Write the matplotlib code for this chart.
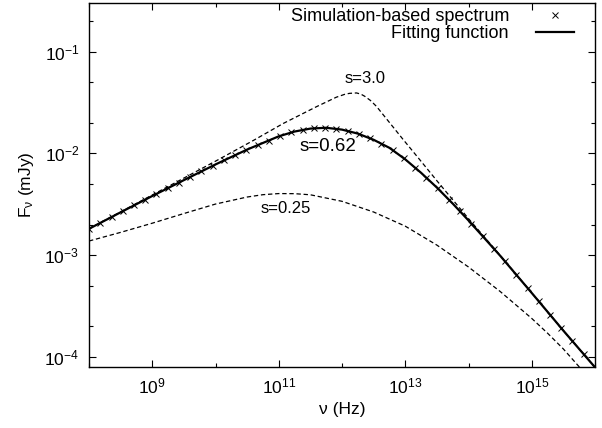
import numpy as np
import matplotlib
matplotlib.use('Agg')
import matplotlib.pyplot as plt
from matplotlib.ticker import LogLocator, FixedLocator, NullFormatter

plt.rcParams['font.family'] = ['Liberation Sans', 'DejaVu Sans']
plt.rcParams['mathtext.fontset'] = 'custom'
plt.rcParams['mathtext.rm'] = 'Liberation Sans'
plt.rcParams['mathtext.it'] = 'Liberation Sans:italic'
plt.rcParams['axes.unicode_minus'] = False

# simulation-based spectrum (log10 nu [Hz], log10 F [mJy])
sim_lognu = np.array([8.000, 8.178, 8.356, 8.533, 8.711, 8.889, 9.067, 9.244, 9.422, 9.600,
                      9.778, 9.956, 10.133, 10.311, 10.489, 10.667, 10.844, 11.022, 11.200, 11.378,
                      11.556, 11.733, 11.911, 12.089, 12.267, 12.444, 12.622, 12.800, 12.978, 13.156,
                      13.333, 13.511, 13.689, 13.867, 14.044, 14.222, 14.400, 14.578, 14.756, 14.933,
                      15.111, 15.289, 15.467, 15.644, 15.822, 16.000])
sim_logF = np.array([-2.740, -2.682, -2.624, -2.567, -2.510, -2.454, -2.397, -2.342, -2.286, -2.231,
                     -2.176, -2.122, -2.069, -2.017, -1.965, -1.919, -1.873, -1.828, -1.794, -1.770,
                     -1.754, -1.748, -1.760, -1.780, -1.809, -1.852, -1.905, -1.968, -2.048, -2.140,
                     -2.238, -2.342, -2.454, -2.570, -2.688, -2.812, -2.935, -3.061, -3.191, -3.321,
                     -3.452, -3.584, -3.716, -3.844, -3.972, -4.100])

# fitting function, s = 0.62
fit_lognu = np.array([8.0, 8.5, 9.0, 9.5, 10.0, 10.5, 11.0, 11.25, 11.5, 11.75, 12.0, 12.25,
                      12.5, 12.75, 13.0, 13.25, 13.5, 13.75, 14.0, 14.5, 15.0, 15.5, 16.0])
fit_logF = np.array([-2.740, -2.578, -2.418, -2.262, -2.108, -1.962, -1.832, -1.785, -1.756, -1.748,
                     -1.766, -1.805, -1.866, -1.945, -2.058, -2.190, -2.335, -2.492, -2.658,
                     -3.004, -3.370, -3.740, -4.100])

# s = 3.0
s3_lognu = np.array([8.0, 9.0, 10.0, 10.6, 11.07, 11.6, 11.91, 12.05, 12.12, 12.23, 12.30, 12.36,
                     12.45, 12.545, 12.755, 12.965, 13.23, 13.5, 14.0, 14.5, 15.0, 15.5, 16.0])
s3_logF = np.array([-2.740, -2.408, -2.076, -1.872, -1.706, -1.540, -1.448, -1.418, -1.410, -1.406,
                    -1.418, -1.439, -1.480, -1.538, -1.700, -1.862, -2.062, -2.268, -2.640,
                    -3.000, -3.370, -3.740, -4.100])

# s = 0.25
s025_lognu = np.array([8.0, 8.5, 9.0, 9.5, 10.0, 10.5, 10.75, 11.0, 11.25, 11.5, 12.0, 12.5,
                       13.0, 13.5, 14.0, 14.5, 15.0, 15.25, 15.5, 15.8])
s025_logF = np.array([-2.860, -2.775, -2.685, -2.590, -2.497, -2.428, -2.405, -2.394, -2.395, -2.406,
                      -2.470, -2.575, -2.714, -2.900, -3.115, -3.355, -3.620, -3.765, -3.920, -4.130])

fig = plt.figure(figsize=(6.02, 4.28), dpi=100)
ax = fig.add_axes([89 / 602, 1 - 367 / 428, 506 / 602, 364 / 428])

ax.plot(10 ** s3_lognu, 10 ** s3_logF, color='k', lw=0.9, ls=(0, (3.5, 2.2)))
ax.plot(10 ** s025_lognu, 10 ** s025_logF, color='k', lw=0.9, ls=(0, (3.5, 2.2)))
ax.plot(10 ** sim_lognu, 10 ** sim_logF, 'kx', ms=4.5, mew=0.7, label='Simulation-based spectrum')
ax.plot(10 ** fit_lognu, 10 ** fit_logF, 'k-', lw=1.6, label='Fitting function')

ax.set_xscale('log')
ax.set_yscale('log')
ax.set_xlim(1e8, 1e16)
ax.set_ylim(8e-5, 0.3)

ax.xaxis.set_major_locator(FixedLocator([1e9, 1e11, 1e13, 1e15]))
ax.xaxis.set_minor_locator(FixedLocator([1e8, 1e10, 1e12, 1e14, 1e16]))
ax.xaxis.set_minor_formatter(NullFormatter())
ax.yaxis.set_major_locator(LogLocator(base=10, numticks=10))
ax.yaxis.set_minor_locator(LogLocator(base=10, subs=[2, 5], numticks=10))
ax.yaxis.set_minor_formatter(NullFormatter())

ax.tick_params(which='both', direction='in', top=True, right=True, labelsize=12.5)
ax.tick_params(which='major', length=5, width=0.8, pad=7)
ax.tick_params(which='minor', length=3, width=0.8)
for sp in ax.spines.values():
    sp.set_linewidth(1.0)

ax.set_xlabel('ν (Hz)', fontsize=12.5, labelpad=4)
ax.set_ylabel(r'F$_{\mathrm{ν}}$ (mJy)', fontsize=12.5, labelpad=6)

ax.text(10 ** 12.36, 10 ** -1.265, 's=3.0', fontsize=12, ha='center', va='center')
ax.text(10 ** 11.78, 10 ** -1.934, 's=0.62', fontsize=13.5, ha='center', va='center')
ax.text(10 ** 11.11, 10 ** -2.544, 's=0.25', fontsize=12, ha='center', va='center')

ax.legend(loc='upper right', bbox_to_anchor=(0.969, 1.0), frameon=False, markerfirst=False,
          fontsize=13, handlelength=2.1, handletextpad=1.5, labelspacing=0.0,
          borderaxespad=0.0, borderpad=0.3)

fig.savefig('out.png', dpi=100)
